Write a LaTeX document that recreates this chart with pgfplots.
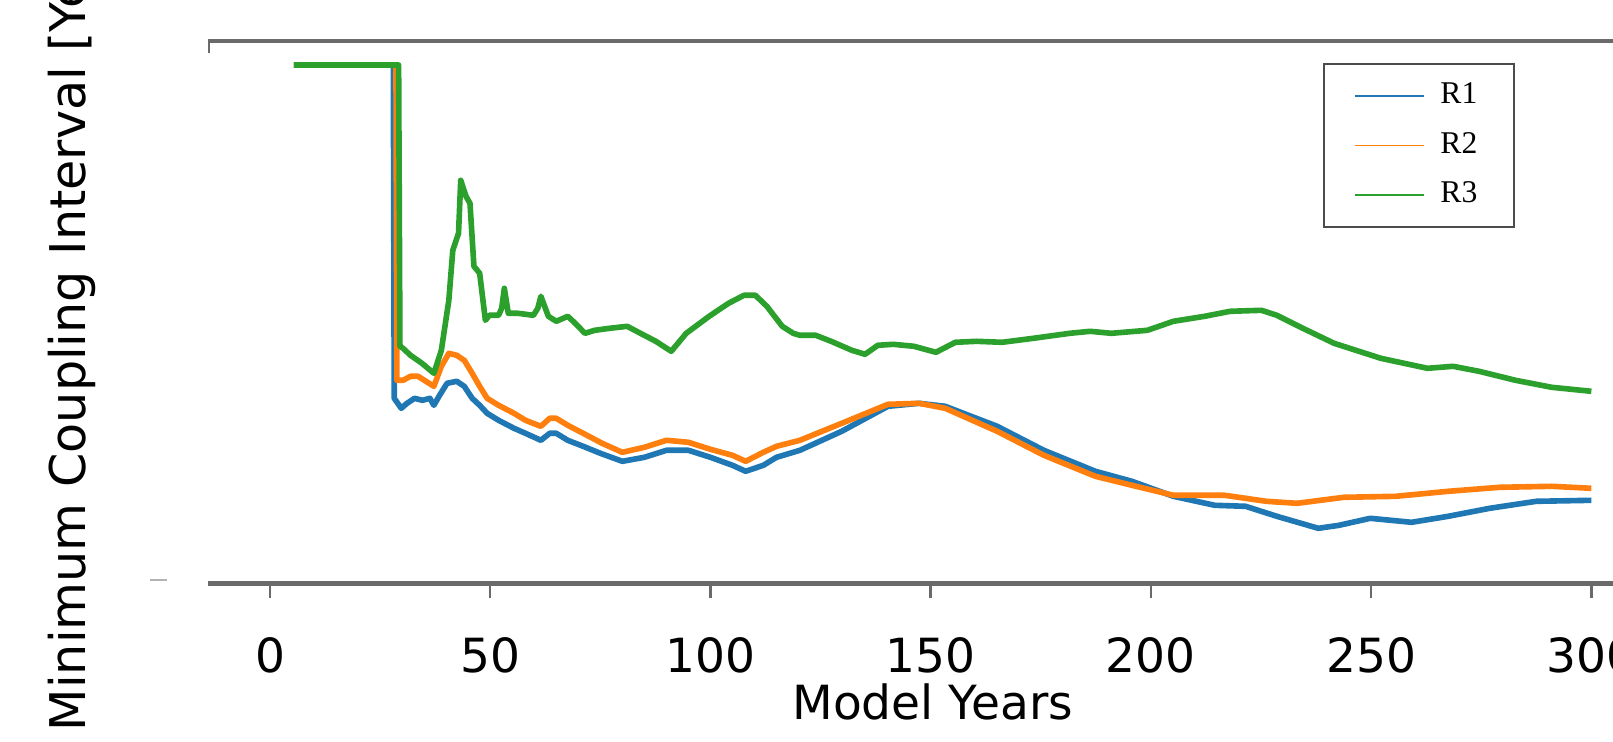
\documentclass[border=0pt]{standalone}
\usepackage{fontspec}
\setmainfont{DejaVu Sans}
\newfontfamily\legfont{Liberation Serif}
\usepackage{pgfplots}
\usepackage{pgfplotstable}
\pgfplotsset{compat=1.18}
\definecolor{c1}{HTML}{1F77B4}
\definecolor{c2}{HTML}{FF7F0E}
\definecolor{c3}{HTML}{2CA02C}
\definecolor{spine}{HTML}{6A6A6A}

\pgfplotstableread{
x y
5.4 51.83
28.0 51.83
28.2 18.5
29.8 17.5
31.1 18.0
32.8 18.5
34.6 18.3
36.3 18.5
37.2 17.8
38.5 18.8
40.2 20.0
42.4 20.2
44.1 19.7
45.9 18.5
47.6 17.8
49.3 17.0
51.9 16.3
55.4 15.5
58.0 15.0
61.5 14.3
63.5 15.0
65.0 15.0
67.6 14.3
71.1 13.7
75.0 13.0
80.0 12.2
85.0 12.6
90.0 13.3
95.0 13.3
100.0 12.6
105.0 11.8
108.0 11.2
112.0 11.8
115.0 12.6
120.3 13.3
129.8 15.2
140.3 17.7
147.4 18.0
153.3 17.7
165.1 15.7
175.7 13.3
187.4 11.2
195.7 10.2
205.1 8.7
214.5 7.8
221.5 7.7
228.6 6.7
238.0 5.5
242.7 5.8
249.8 6.5
259.2 6.1
267.5 6.7
276.9 7.5
287.5 8.2
300.0 8.3
}\rone

\pgfplotstableread{
x y
5.4 51.83
28.6 51.83
28.8 20.3
30.2 20.3
31.9 20.7
33.6 20.7
35.4 20.2
37.2 19.7
38.9 21.7
40.6 23.0
42.4 22.8
44.1 22.3
45.9 21.0
47.6 19.7
49.3 18.5
51.9 17.8
55.4 17.0
58.0 16.3
61.5 15.7
63.5 16.5
65.0 16.5
67.6 15.8
71.1 15.0
75.4 14.0
80.0 13.1
85.0 13.6
90.0 14.3
95.0 14.1
100.0 13.4
105.0 12.8
108.0 12.2
112.0 13.1
115.0 13.7
120.3 14.3
129.8 16.0
140.3 17.9
147.4 18.0
153.3 17.5
165.1 15.2
175.7 12.8
187.4 10.7
195.7 9.8
205.1 8.8
216.8 8.8
226.2 8.2
233.2 8.0
243.8 8.6
255.6 8.7
267.5 9.2
279.2 9.6
291.0 9.7
300.0 9.5
}\rtwo

\pgfplotstableread{
x y
5.4 51.83
29.2 51.83
29.5 23.7
30.2 23.5
31.9 22.8
34.5 22.0
37.2 21.0
38.9 23.3
40.6 28.3
41.5 33.3
42.8 35.0
43.3 40.3
44.5 38.7
45.4 38.0
46.3 31.7
47.6 31.0
48.9 26.3
49.8 26.8
51.9 26.8
52.6 27.5
53.2 29.5
54.1 27.0
56.3 27.0
59.8 26.8
60.8 27.5
61.5 28.7
63.2 26.7
65.0 26.2
67.6 26.7
69.3 26.0
71.5 25.0
73.7 25.3
77.1 25.5
81.1 25.7
84.1 25.0
87.6 24.2
91.1 23.2
94.5 25.0
99.7 26.7
104.1 28.0
107.6 28.8
110.2 28.8
112.8 27.7
116.3 25.7
118.8 25.0
120.3 24.8
123.9 24.8
127.4 24.2
132.1 23.3
135.1 22.9
138.0 23.8
141.5 23.9
146.2 23.7
151.2 23.1
155.6 24.1
160.4 24.2
166.2 24.1
173.3 24.5
181.6 25.0
186.2 25.2
191.0 25.0
199.2 25.3
205.1 26.2
212.2 26.7
218.0 27.2
225.1 27.3
228.6 26.8
234.5 25.5
241.6 24.0
252.2 22.5
262.8 21.5
268.6 21.7
274.5 21.2
282.8 20.3
291.0 19.6
300.0 19.2
}\rthree

\begin{document}
\begin{tikzpicture}
\useasboundingbox (0,0) rectangle (16.13cm,7.41cm);
\begin{scope}
\clip (0,0) rectangle (16.13cm,7.41cm);
\begin{axis}[
  at={(2.08cm,1.577cm)}, anchor=south west, scale only axis,
  width=14.494cm, height=5.423cm,
  xmin=-14.08, xmax=315, ymin=0, ymax=54.23,
  separate axis lines, axis x line*=box, axis y line=none,
  x axis line style={spine, line width=1.3pt},
  xtick={0,50,...,300}, ytick=\empty, xtick pos=left, tick align=outside,
  major tick length=0.15cm,
  xtick style={spine, line width=0.7pt},
  /pgf/number format/assume math mode=true,
  xticklabel style={font=\fontsize{13.4}{16}\selectfont, anchor=base, yshift=-0.74cm, inner sep=0pt},
  xlabel={Model Years},
  xlabel style={font=\fontsize{13.4}{16}\selectfont, at={(axis description cs:0.5,0)}, anchor=base, yshift=-1.36cm, inner sep=0pt},
  legend style={at={(axis description cs:0.7693,0.9594)}, anchor=north west,
    draw=black!70, line width=0.6pt, fill=white,
    inner xsep=0.3cm, inner ysep=0.12cm, row sep=0.09cm, column sep=0.086cm,
    font=\legfont\fontsize{9}{10}\selectfont},
  legend cell align=left,
  legend image code/.code={\draw[#1, line width=0.5pt] (0cm,0cm) -- (0.69cm,0cm);},
]
\addplot[c1, line width=1.6pt, line join=round] table {\rone};
\addlegendentry{R1}
\addplot[c2, line width=1.6pt, line join=round] table {\rtwo};
\addlegendentry{R2}
\addplot[c3, line width=1.6pt, line join=round] table {\rthree};
\addlegendentry{R3}
\draw[spine, line width=1.3pt] (axis description cs:0,1) -- ++(0pt,-0.12cm);
\end{axis}
\node[rotate=90, anchor=base west, inner sep=0pt, font=\fontsize{14}{16}\selectfont] at (0.85cm,0.09cm) {Minimum Coupling Interval [Years]};
\draw[black!30, line width=0.8pt] (1.50cm,1.61cm) -- (1.67cm,1.61cm);
\end{scope}
\end{tikzpicture}
\end{document}
